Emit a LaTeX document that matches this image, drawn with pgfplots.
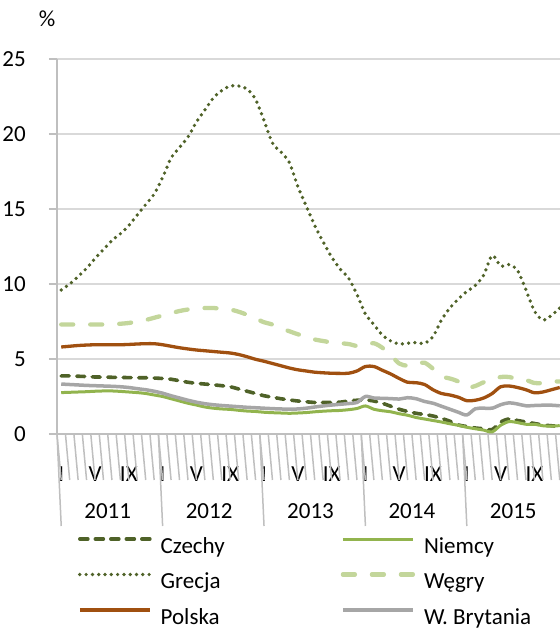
\documentclass[border=0pt]{standalone}
\usepackage{pgfplots}
\pgfplotsset{compat=1.18}
\usepackage{pgfplotstable}
\usepackage{fontspec}
\setmainfont{Carlito}
\definecolor{czc}{RGB}{79,98,40}
\definecolor{dec}{RGB}{146,180,78}
\definecolor{huc}{RGB}{195,214,155}
\definecolor{plc}{RGB}{160,80,16}
\definecolor{ukc}{RGB}{166,166,166}
\definecolor{gridgray}{RGB}{217,217,217}
\definecolor{axisgray}{RGB}{191,191,191}

\pgfplotstableread{
m  cz   de   gr    hu   pl   uk
0  3.87 2.76 9.6   7.3  5.8  3.33
1  3.87 2.78 10.0  7.3  5.85 3.30
2  3.85 2.80 10.5  7.3  5.9  3.27
3  3.83 2.82 11.05 7.3  5.93 3.24
4  3.80 2.85 11.7  7.3  5.95 3.22
5  3.80 2.87 12.3  7.3  5.95 3.20
6  3.78 2.87 12.9  7.3  5.95 3.18
7  3.77 2.84 13.35 7.35 5.95 3.15
8  3.76 2.80 13.9  7.4  5.97 3.10
9  3.75 2.76 14.6  7.5  6.0  3.02
10 3.75 2.70 15.3  7.6  6.02 2.95
11 3.73 2.60 16.0  7.75 6.02 2.85
12 3.70 2.50 17.1  7.9  5.95 2.72
13 3.65 2.35 18.4  8.05 5.85 2.55
14 3.55 2.20 19.1  8.2  5.75 2.40
15 3.45 2.05 19.8  8.3  5.67 2.25
16 3.38 1.93 20.8  8.35 5.60 2.12
17 3.33 1.80 21.6  8.4  5.55 2.02
18 3.28 1.72 22.4  8.4  5.50 1.95
19 3.22 1.67 22.9  8.35 5.45 1.90
20 3.15 1.64 23.2  8.3  5.40 1.86
21 3.00 1.58 23.2  8.15 5.30 1.82
22 2.85 1.53 23.0  7.95 5.15 1.78
23 2.70 1.50 22.3  7.7  4.98 1.75
24 2.55 1.45 20.9  7.45 4.85 1.72
25 2.45 1.42 19.4  7.3  4.70 1.69
26 2.35 1.40 18.8  7.05 4.55 1.67
27 2.27 1.38 18.1  6.85 4.40 1.65
28 2.20 1.40 16.5  6.65 4.28 1.67
29 2.15 1.43 15.2  6.5  4.20 1.72
30 2.10 1.48 13.9  6.3  4.12 1.80
31 2.10 1.52 12.8  6.2  4.08 1.87
32 2.10 1.55 11.8  6.1  4.05 1.93
33 2.12 1.57 11.0  6.05 4.04 1.98
34 2.20 1.62 10.4  6.0  4.05 2.03
35 2.25 1.70 9.3   5.87 4.2  2.10
36 2.27 1.87 8.0   5.95 4.5  2.50
37 2.20 1.65 7.3   6.05 4.5  2.40
38 2.05 1.55 6.6   5.75 4.25 2.38
39 1.85 1.48 6.2   5.25 4.0  2.36
40 1.65 1.35 6.0   4.7  3.7  2.33
41 1.50 1.25 6.05  4.55 3.45 2.42
42 1.38 1.10 6.1   4.7  3.42 2.35
43 1.30 1.00 6.05  4.75 3.3  2.17
44 1.20 0.90 6.5   4.35 2.95 2.05
45 1.04 0.80 7.6   3.85 2.7  1.85
46 0.85 0.68 8.4   3.7  2.6  1.65
47 0.60 0.58 9.0   3.5  2.45 1.45
48 0.50 0.45 9.5   3.1  2.22 1.27
49 0.40 0.35 9.9   3.2  2.25 1.68
50 0.35 0.26 10.6  3.45 2.4  1.72
51 0.30 0.14 11.9  3.6  2.7  1.72
52 0.80 0.58 11.2  3.8  3.15 1.95
53 1.00 0.83 11.3  3.8  3.2  2.08
54 0.90 0.76 10.9  3.65 3.1  2.0
55 0.80 0.65 9.6   3.6  2.95 1.88
56 0.70 0.65 8.2   3.4  2.75 1.9
57 0.60 0.55 7.6   3.4  2.8  1.92
58 0.55 0.52 7.9   3.5  2.95 1.92
59 0.50 0.56 8.4   3.5  3.1  1.88
}\data

\begin{document}
\begin{tikzpicture}[font=\fontsize{23bp}{27bp}\selectfont]
\path[use as bounding box] (0,0) rectangle (560bp,632bp);
\begin{axis}[
  at={(57bp,198bp)}, anchor=south west,
  scale only axis, width=507bp, height=375bp,
  xmin=-0.5, xmax=59.5, ymin=0, ymax=25,
  clip=false,
  axis lines*=left,
  axis line style={draw=axisgray, line width=1.6bp},
  ytick={0,5,10,15,20,25},
  ymajorgrids,
  major grid style={draw=gridgray, line width=1.4bp},
  tick align=outside, major tick length=8bp,
  ytick style={draw=axisgray, line width=1.5bp},
  xtick={0,4,8,12,16,20,24,28,32,36,40,44,48,52,56},
  xticklabels={I,V,IX,I,V,IX,I,V,IX,I,V,IX,I,V,IX},
  xtick style={draw=none},
  xticklabel style={anchor=base, inner sep=0pt, yshift=-39bp},
  yticklabel style={anchor=east, inner sep=0pt, xshift=-23bp},
  /pgf/number format/assume math mode=true,
  tick label style={font=\fontsize{23bp}{27bp}\selectfont},
  legend columns=2,
  legend cell align=left,
  legend image code/.code={\draw[#1, sharp plot] (0bp,7bp) -- (70bp,7bp);},
  legend style={at={(rel axis cs:0.0414,-0.2720)}, anchor=north west,
    draw=none, fill=none, inner sep=0pt, outer sep=0pt, row sep=15.5bp,
    font=\fontsize{23bp}{27bp}\selectfont,
    nodes={inner sep=0pt, text height=17bp, text depth=3bp},
    /tikz/every odd column/.append style={column sep=9bp},
    /tikz/column 2/.append style={column sep=116bp}},
]
\addplot[czc, line width=3.6bp, line cap=round, dash pattern=on 8bp off 7.5bp, smooth] table[x=m, y=cz] {\data};
\addlegendentry{Czechy}
\addplot[dec, line width=3bp, smooth] table[x=m, y=de] {\data};
\addlegendentry{Niemcy}
\addplot[czc, line width=3.7bp, line cap=round, dash pattern=on 0bp off 6.3bp, smooth] table[x=m, y=gr] {\data};
\addlegendentry{Grecja}
\addplot[huc, line width=4.3bp, line cap=round, dash pattern=on 12bp off 17bp, smooth] table[x=m, y=hu] {\data};
\addlegendentry{Węgry}
\addplot[plc, line width=3.3bp, smooth] table[x=m, y=pl] {\data};
\addlegendentry{Polska}
\addplot[ukc, line width=3.5bp, smooth] table[x=m, y=uk] {\data};
\addlegendentry{W. Brytania}
\pgfplotsinvokeforeach{-0.5,0.5,...,59.5}{
  \draw[axisgray, line width=1.5bp] (axis cs:#1,0) -- ++(0,-46bp);
}
\pgfplotsinvokeforeach{-0.5,11.5,23.5,35.5,47.5,59.5}{
  \draw[axisgray, line width=1.5bp] (axis cs:#1,0) -- ++(0,-92bp);
}
\node[anchor=base] at ([yshift=-84bp]axis cs:5.5,0) {2011};
\node[anchor=base] at ([yshift=-84bp]axis cs:17.5,0) {2012};
\node[anchor=base] at ([yshift=-84bp]axis cs:29.5,0) {2013};
\node[anchor=base] at ([yshift=-84bp]axis cs:41.5,0) {2014};
\node[anchor=base] at ([yshift=-84bp]axis cs:53.5,0) {2015};
\end{axis}
\node at (47bp,613bp) {\%};
\end{tikzpicture}
\end{document}
